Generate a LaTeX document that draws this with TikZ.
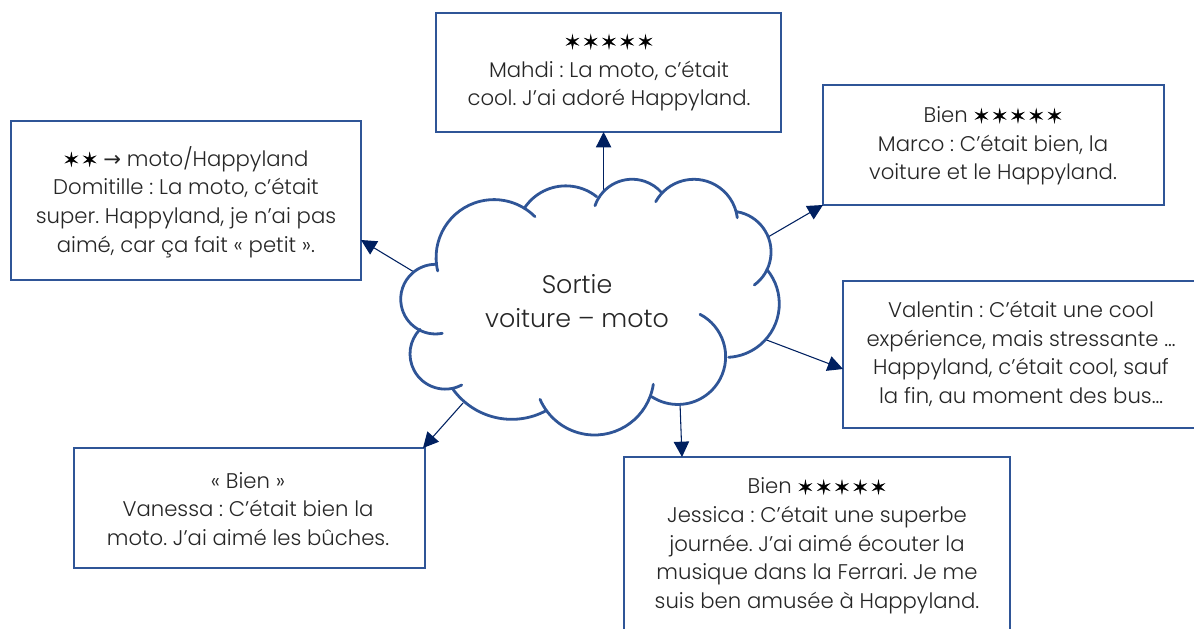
\documentclass[tikz,border=0pt]{standalone}
\usepackage{fontspec}
\setmainfont{Poppins Light}
\newfontfamily\symfont{DejaVu Sans}
\newfontfamily\starfont[FakeBold=2,LetterSpace=14]{DejaVu Sans}
\usetikzlibrary{arrows.meta,calc}
\definecolor{boxblue}{HTML}{2F5597}
\definecolor{navy}{HTML}{002060}
\newcommand{\stars}[1]{{\starfont\fontsize{14pt}{20pt}\selectfont\color{black} #1}}
\newcommand{\sym}[1]{{\symfont #1}}
% circular arc through three points (pixels)
\newcommand{\threearc}[6]{%
  \pgfmathsetmacro{\ax}{(#3-#1)/50}\pgfmathsetmacro{\ay}{(#4-#2)/50}%
  \pgfmathsetmacro{\bx}{(#5-#1)/50}\pgfmathsetmacro{\by}{(#6-#2)/50}%
  \pgfmathsetmacro{\cross}{\ax*\by-\ay*\bx}%
  \pgfmathsetmacro{\ux}{(\by*(\ax*\ax+\ay*\ay)-\ay*(\bx*\bx+\by*\by))/(2*\cross)}%
  \pgfmathsetmacro{\uy}{(\ax*(\bx*\bx+\by*\by)-\bx*(\ax*\ax+\ay*\ay))/(2*\cross)}%
  \pgfmathsetmacro{\rad}{50*sqrt(\ux*\ux+\uy*\uy)}%
  \pgfmathsetmacro{\aone}{atan2(-\uy,-\ux)}%
  \pgfmathsetmacro{\athree}{atan2(\by-\uy,\bx-\ux)}%
  \pgfmathsetmacro{\athree}{\cross>0 ? (\athree<\aone ? \athree+360 : \athree) : (\athree>\aone ? \athree-360 : \athree)}%
  \draw[cloudline] (#1,#2) arc[start angle=\aone,end angle=\athree,radius=\rad];%
}
\tikzset{
  card/.style={draw=boxblue,line width=2.1pt,fill=white},
  cardtext/.style={align=center,font=\fontsize{15.9pt}{21.5pt}\selectfont\frenchspacing,text=black!85,inner sep=0pt},
  cloudline/.style={draw=boxblue,line width=2.1pt,line cap=round},
  link/.style={draw=navy,line width=0.8pt,-{Triangle[length=11.5pt,width=11.5pt]}}
}
\begin{document}
\begin{tikzpicture}[x=0.75pt,y=-0.75pt]
\useasboundingbox (0,0) rectangle (1194,628);
\begin{scope}
\clip (0,0) rectangle (1194,628);
% boxes
\path[card] (436,13) rectangle (781,132);
\path[card] (11,121) rectangle (361,280);
\path[card] (823,85) rectangle (1164,205);
\path[card] (843,281) rectangle (1210,428);
\path[card] (74,448) rectangle (425,568);
\path[card] (624,457) rectangle (1010,650);
% connector ends
\coordinate (s1) at (603.6,190);
\coordinate (s2) at (414,272);
\coordinate (s3) at (768,237);
\coordinate (s4) at (764,339);
\coordinate (s5) at (463,403);
\coordinate (s6) at (680,403);
\coordinate (e1) at (603.6,132);
\coordinate (e2) at (361,240);
\coordinate (e3) at (823,205);
\coordinate (e4) at (843,369);
\coordinate (e5) at (423,448);
\coordinate (e6) at (682,457);
\draw[link] (s1) -- (e1);
\draw[link] (s2) -- (e2);
\draw[link] (s3) -- (e3);
\draw[link] (s4) -- (e4);
\draw[link] (s5) -- (e5);
\draw[link] (s6) -- (e6);
% cloud
\fill[white] (437,271) -- (452,217) -- (490,202) -- (524,208) -- (557,187) -- (597,197) -- (630,179) -- (660,193) -- (693,179) -- (737,212) -- (771,250) -- (767,270) -- (779,300) -- (767,338) -- (729,357) -- (715,387) -- (680,403) -- (637,423) -- (595,435) -- (546,411) -- (510,419) -- (452,388) -- (433,387) -- (410,353) -- (420,329) -- (401,298) -- cycle;
\threearc{437.7}{271}{452.3}{217.3}{535}{216.7}
\threearc{524.3}{208.3}{556.7}{186.7}{596.7}{196.7}
\threearc{595}{205.7}{630}{179.3}{661.7}{192.7}
\threearc{655.7}{201.7}{693.3}{179.3}{737.3}{217.7}
\threearc{736.7}{211.7}{771}{250}{754.3}{285}
\threearc{766.7}{269.3}{766.7}{338.3}{728.7}{357.3}
\threearc{700}{314.3}{715}{386.7}{651.7}{396.7}
\threearc{653.3}{384.3}{595}{435}{540}{399.3}
\threearc{546}{410.7}{510}{419.3}{452.3}{388.3}
\threearc{461.7}{385}{410}{353.3}{420}{329.3}
\threearc{442.3}{333.3}{400.7}{298.3}{435}{264.3}
% texts
\node[cardtext,font=\fontsize{19pt}{25pt}\selectfont] (cloud) at (577,301) {Sortie\\voiture – moto};
\node[cardtext] (top) at (609,73) {\stars{✶✶✶✶✶}\\Mahdi : La moto, c’était\\cool. J’ai adoré Happyland.};
\node[cardtext] (left) at (186,202) {\stars{✶✶} \sym{→} moto/Happyland\\Domitille : La moto, c’était\\super. Happyland, je n’ai pas\\aimé, car ça fait « petit ».};
\node[cardtext] (rtop) at (993,146) {Bien \stars{✶✶✶✶✶}\\Marco : C’était bien, la\\voiture et le Happyland.};
\node[cardtext] (rmid) at (1021,354) {Valentin : C’était une cool\\expérience, mais stressante …\\Happyland, c’était cool, sauf\\la fin, au moment des bus…};
\node[cardtext] (vane) at (248,509) {« Bien »\\Vanessa : C’était bien la\\moto. J’ai aimé les bûches.};
\node[cardtext] (jess) at (817,546) {Bien \stars{✶✶✶✶✶}\\Jessica : C’était une superbe\\journée. J’ai aimé écouter la\\musique dans la Ferrari. Je me\\suis ben amusée à Happyland.};
\end{scope}
\end{tikzpicture}
\end{document}
